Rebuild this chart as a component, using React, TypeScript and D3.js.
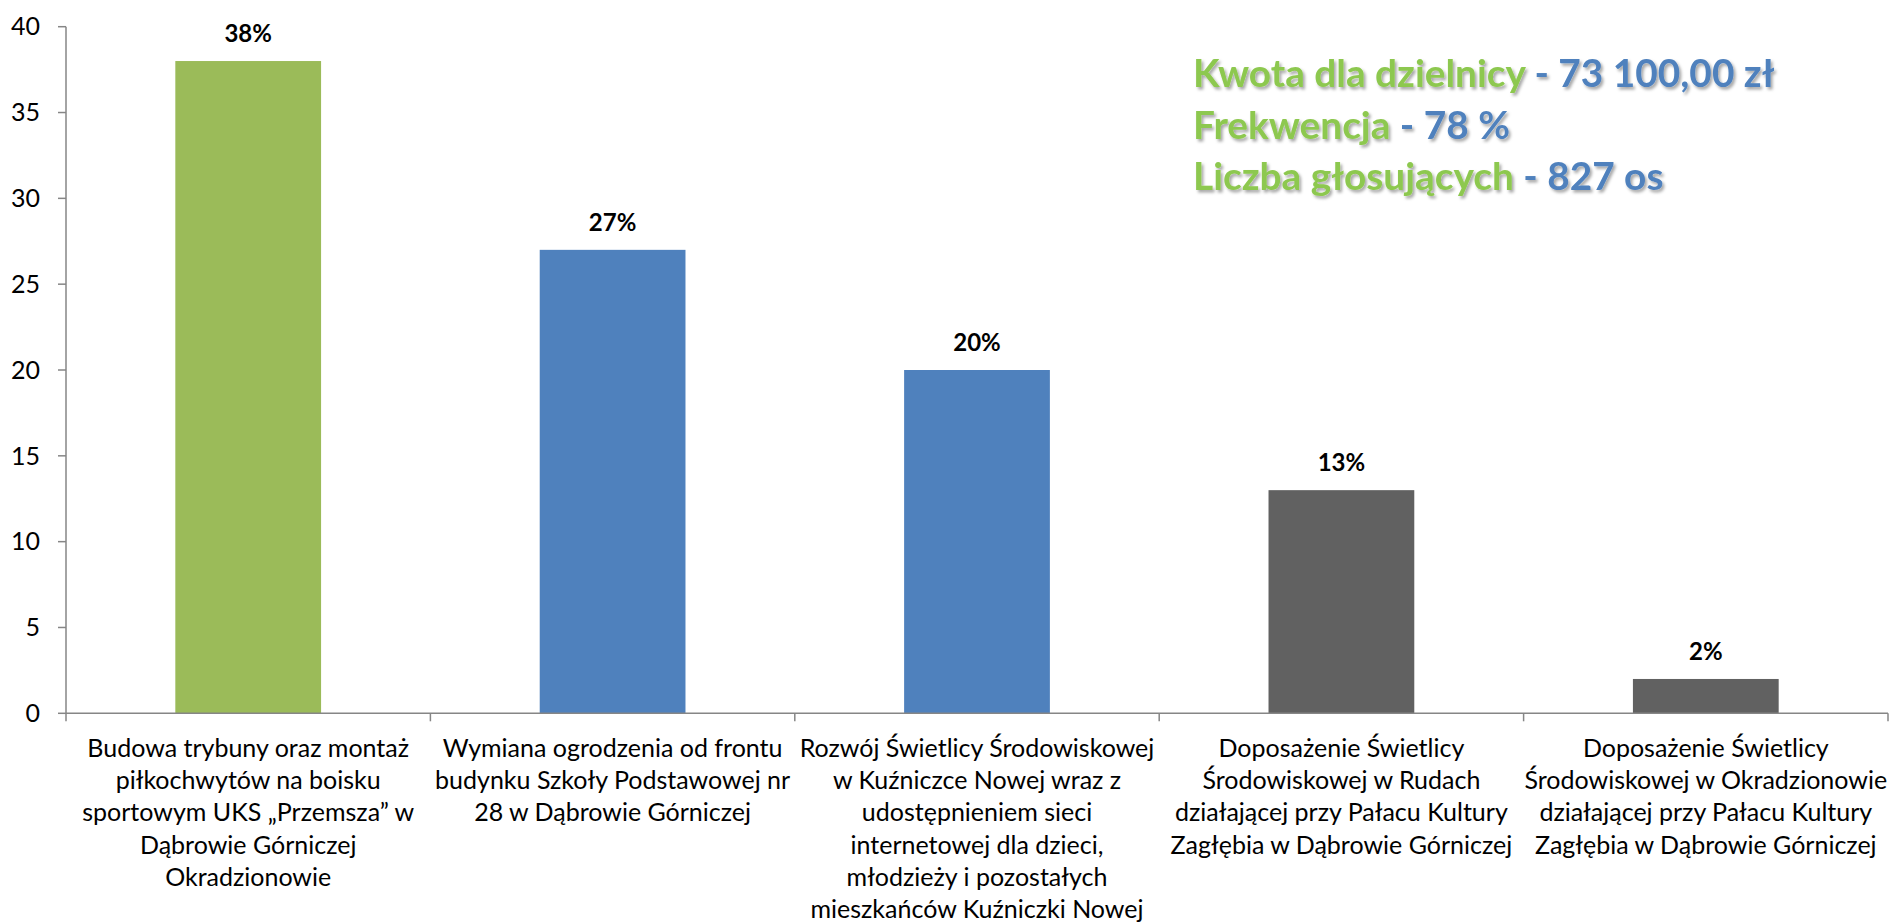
import React from "react";
import * as d3 from "d3";

const categories: string[][] = [
  ["Budowa trybuny oraz montaż", "piłkochwytów na boisku", "sportowym UKS „Przemsza” w", "Dąbrowie Górniczej", "Okradzionowie"],
  ["Wymiana ogrodzenia od frontu", "budynku Szkoły Podstawowej nr", "28 w Dąbrowie Górniczej"],
  ["Rozwój Świetlicy Środowiskowej", "w Kuźniczce Nowej wraz z", "udostępnieniem sieci", "internetowej dla dzieci,", "młodzieży i pozostałych", "mieszkańców Kuźniczki Nowej"],
  ["Doposażenie Świetlicy", "Środowiskowej w Rudach", "działającej przy Pałacu Kultury", "Zagłębia w Dąbrowie Górniczej"],
  ["Doposażenie Świetlicy", "Środowiskowej w Okradzionowie", "działającej przy Pałacu Kultury", "Zagłębia w Dąbrowie Górniczej"],
];
const values: number[] = [38, 27, 20, 13, 2];
const valueLabels: string[] = ["38%", "27%", "20%", "13%", "2%"];
const barColors: string[] = ["#9BBB59", "#4F81BD", "#4F81BD", "#616161", "#616161"];
const yTicks: number[] = [0, 5, 10, 15, 20, 25, 30, 35, 40];

const infoLines: [string, string][] = [
  ["Kwota dla dzielnicy", " - 73 100,00 zł"],
  ["Frekwencja", " - 78 %"],
  ["Liczba głosujących", " - 827 os"],
];

const W = 1893;
const H = 924;
const left = 66;
const right = 1888;
const top = 26.7;
const bottom = 713.3;
const FONT = "Lato, 'Open Sans', sans-serif";
const AXIS = "#868686";

export default function App() {
  const idx = values.map((_, i) => i);
  const xBand = d3.scaleBand<number>().domain(idx).range([left, right]).paddingInner(0).paddingOuter(0);
  const step = xBand.bandwidth();
  const barW = step * 0.4;
  const y = d3.scaleLinear().domain([0, 40]).range([bottom, top]);

  return (
    <svg width={W} height={H} style={{ position: "absolute", left: 0, top: 0, display: "block", background: "#fff" }}>
      <defs>
        <filter id="shadow" x="-5%" y="-20%" width="110%" height="150%">
          <feDropShadow dx="2" dy="2.5" stdDeviation="1.5" floodColor="#000" floodOpacity="0.35" />
        </filter>
      </defs>
      {/* bars */}
      {values.map((v, i) => {
        const cx = (xBand(i) as number) + step / 2;
        return (
          <rect key={"b" + i} x={cx - barW / 2} y={y(v)} width={barW} height={y(0) - y(v)} fill={barColors[i]} />
        );
      })}
      {/* y axis */}
      <line x1={left} x2={left} y1={y(40)} y2={y(0)} stroke={AXIS} strokeWidth={1.5} />
      {yTicks.map((t) => (
        <g key={"yt" + t}>
          <line x1={left - 8} x2={left} y1={y(t)} y2={y(t)} stroke={AXIS} strokeWidth={1.5} />
          <text x={40} y={y(t)} dy="0.35em" textAnchor="end" fontFamily={FONT} fontSize={25} fill="#000">
            {t}
          </text>
        </g>
      ))}
      {/* x axis */}
      <line x1={left} x2={right} y1={y(0)} y2={y(0)} stroke={AXIS} strokeWidth={1.5} />
      {idx.concat([values.length]).map((i) => {
        const xx = i < values.length ? (xBand(i) as number) : right;
        return <line key={"xt" + i} x1={xx} x2={xx} y1={y(0)} y2={y(0) + 8} stroke={AXIS} strokeWidth={1.5} />;
      })}
      {/* category labels */}
      {categories.map((lines, i) => {
        const cx = (xBand(i) as number) + step / 2;
        return (
          <text key={"c" + i} textAnchor="middle" fontFamily={FONT} fontSize={25} fill="#000">
            {lines.map((ln, j) => (
              <tspan key={j} x={cx} y={757 + j * 32.2}>
                {ln}
              </tspan>
            ))}
          </text>
        );
      })}
      {/* value labels */}
      {values.map((v, i) => {
        const cx = (xBand(i) as number) + step / 2;
        return (
          <text key={"v" + i} x={cx} y={y(v) - 19} textAnchor="middle" fontFamily={FONT} fontWeight="bold" fontSize={24} fill="#000">
            {valueLabels[i]}
          </text>
        );
      })}
      {/* info text */}
      <g filter="url(#shadow)">
        {infoLines.map((ln, j) => (
          <text key={"i" + j} x={1193} y={87 + j * 51.5} fontFamily={FONT} fontWeight="bold" fontSize={38.8}>
            <tspan fill="#8DC84F">{ln[0]}</tspan>
            <tspan fill="#4F81BD">{ln[1]}</tspan>
          </text>
        ))}
      </g>
    </svg>
  );
}
